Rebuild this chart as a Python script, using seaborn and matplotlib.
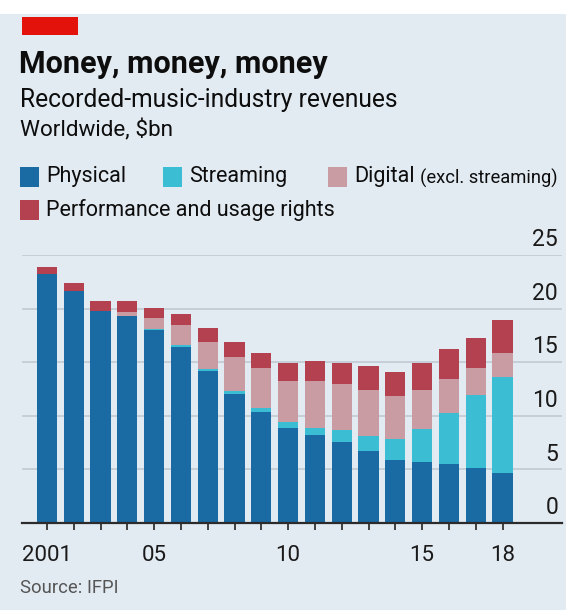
import matplotlib
matplotlib.use("Agg")
import matplotlib.pyplot as plt
import matplotlib.transforms as mtransforms
from matplotlib.patches import Rectangle
import pandas as pd
import seaborn as sns

years = [str(y) for y in range(2001, 2019)]
tick_labels = ["2001", "", "", "", "05", "", "", "", "", "10",
               "", "", "", "", "15", "", "", "18"]

physical = [23.2, 21.6, 19.8, 19.3, 18.0, 16.45, 14.2, 12.0, 10.4, 8.9,
            8.2, 7.6, 6.75, 5.9, 5.7, 5.5, 5.1, 4.65]
streaming = [0, 0, 0, 0, 0.1, 0.15, 0.2, 0.3, 0.3, 0.5,
             0.7, 1.1, 1.4, 1.95, 3.05, 4.75, 6.85, 8.95]
digital = [0, 0, 0, 0.4, 1.0, 1.9, 2.5, 3.2, 3.8, 3.8,
           4.3, 4.3, 4.25, 4.0, 3.65, 3.15, 2.55, 2.25]
performance = [0.7, 0.75, 0.9, 1.0, 1.0, 1.0, 1.3, 1.4, 1.4, 1.7,
               1.9, 1.9, 2.2, 2.25, 2.5, 2.8, 2.75, 3.1]

series = ["Physical", "Streaming", "Digital", "Performance and usage rights"]
colors = ["#1a6aa4", "#3bbdd3", "#c99ba3", "#b3414f"]
bg = "#e3ebf2"

df = pd.DataFrame({"year": years, "Physical": physical, "Streaming": streaming,
                   "Digital": digital, "Performance and usage rights": performance})
cum = df[series].cumsum(axis=1)

sns.set_style("white")
plt.rcParams["font.family"] = ["Roboto", "DejaVu Sans"]

fig = plt.figure(figsize=(5.66, 6.10), dpi=100, facecolor=bg)
ax = fig.add_axes([22 / 566, 1 - 523 / 610, 540 / 566, 268 / 610])
ax.set_facecolor(bg)

# stacked bars: draw cumulative totals from top layer down
for name, col in zip(series[::-1], colors[::-1]):
    sns.barplot(x=df["year"], y=cum[name], color=col, saturation=1,
                width=0.75, ax=ax, linewidth=0)

ax.set_xlim(-0.93, 19.22)
ax.set_ylim(0, 25)
ax.set_xlabel("")
ax.set_ylabel("")
for s in ["top", "right", "left"]:
    ax.spines[s].set_visible(False)
ax.spines["bottom"].set_color("#2b2b2b")
ax.spines["bottom"].set_linewidth(1.6)

# gridlines + right-side labels sitting above lines
ax.set_yticks([])
trans = mtransforms.blended_transform_factory(ax.transAxes, ax.transData)
for v in [5, 10, 15, 20, 25]:
    ax.axhline(v, color="#c3ccd5", lw=1.3, zorder=0)
for v in [0, 5, 10, 15, 20, 25]:
    ax.text(0.9926, v + 0.35, str(v), transform=trans, ha="right", va="bottom",
            fontsize=16.5, color="#1a1a1a")

ax.set_xticks(range(len(years)))
ax.set_xticklabels(tick_labels, fontsize=16, color="#1a1a1a")
ax.tick_params(axis="x", which="major", bottom=True, length=5, width=1.3,
               color="#333333", pad=11)
ax.set_xticks([4, 9, 14], minor=True)
ax.tick_params(axis="x", which="minor", bottom=True, length=12, width=1.3,
               color="#333333")

# header
fig.patches.append(Rectangle((0, 1 - 14 / 610), 1, 14 / 610, transform=fig.transFigure,
                             facecolor="white", edgecolor="none", zorder=0))
fig.patches.append(Rectangle((22 / 566, 1 - 35 / 610), 56 / 566, 18 / 610,
                             transform=fig.transFigure, facecolor="#e3120b",
                             edgecolor="none"))
fig.text(19 / 566, 1 - 64 / 610, "Money, money, money", fontsize=22,
         fontweight="bold", va="center", ha="left", color="#0d0d0d")
fig.text(20 / 566, 1 - 100 / 610, "Recorded-music-industry revenues", fontsize=17.7,
         va="center", ha="left", color="#0d0d0d")
fig.text(20 / 566, 1 - 130 / 610, "Worldwide, $bn", fontsize=16.2,
         va="center", ha="left", color="#0d0d0d")

# legend
legend_items = [(20, 177, 0), (163, 177, 1), (328, 177, 2), (20, 210, 3)]
for x0, yc, i in legend_items:
    fig.patches.append(Rectangle((x0 / 566, 1 - (yc + 10) / 610), 19 / 566, 20 / 610,
                                 transform=fig.transFigure, facecolor=colors[i],
                                 edgecolor="none"))
    t = fig.text((x0 + 26) / 566, 1 - yc / 610, series[i], fontsize=15.5,
                 va="center", ha="left", color="#0d0d0d")
    if i == 2:
        fig.canvas.draw()
        bb = t.get_window_extent()
        fig.text((bb.x1 + 5) / 566, 1 - (yc + 1) / 610, "(excl. streaming)",
                 fontsize=13.2, va="center", ha="left", color="#0d0d0d")

fig.text(20 / 566, 1 - 588 / 610, "Source: IFPI", fontsize=13.3,
         va="center", ha="left", color="#555555")

fig.savefig("out.png", dpi=100, facecolor=bg)
